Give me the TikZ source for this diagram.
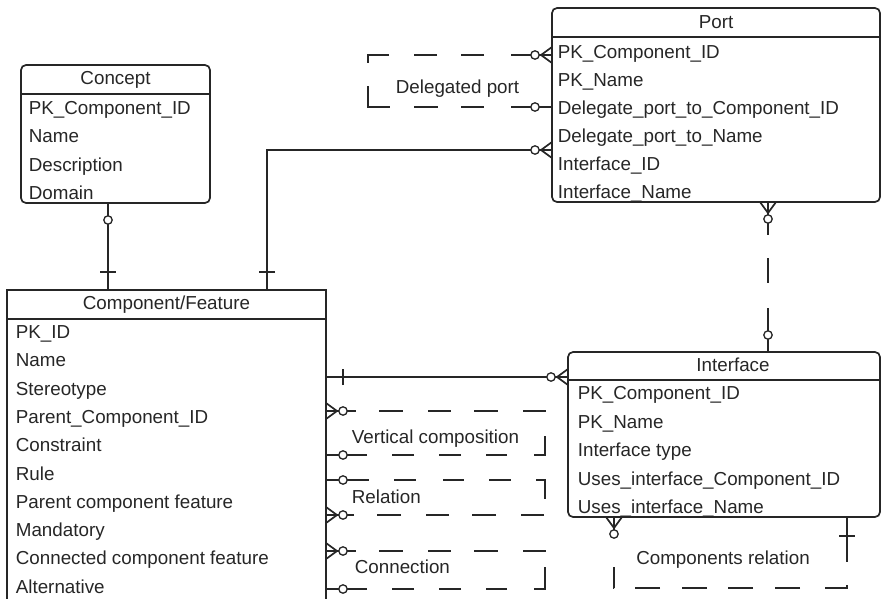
\documentclass[tikz,border=0pt]{standalone}
\usepackage{fontspec}
\setmainfont{Liberation Sans}
\usetikzlibrary{positioning,calc,decorations.markings}
\newcommand{\erfont}{\fontsize{18.8}{22}\selectfont}
\tikzset{
	er/.style={x=1pt,y=-1pt,line width=1.7pt,font=\erfont,color=black!85},
	entity/.style={draw,rectangle,rounded corners=5pt,anchor=north west,inner sep=0pt,outer sep=0pt},
	kernel/.style={draw,rectangle,anchor=north west,inner sep=0pt,outer sep=0pt},
	attr/.style={anchor=base west,inner sep=0pt},
	title/.style={anchor=base,inner sep=0pt},
	rel/.style={line width=1.7pt},
	nonrel/.style={line width=1.7pt,dash pattern=on 22pt off 24pt},
	ring start/.style={postaction={decorate,decoration={markings,mark=at position 17pt with {\draw[solid] (0,0) -- (-17pt,0); \draw[solid,fill=white,line width=1.3pt] (0,0) circle (4.2pt);}}}},
	ring end/.style={postaction={decorate,decoration={markings,mark=at position -17pt with {\draw[solid] (0,0) -- (17pt,0); \draw[solid,fill=white,line width=1.3pt] (0,0) circle (4.2pt);}}}},
	crow start/.style={postaction={decorate,decoration={markings,mark=at position 11pt with {\draw[solid] (-11pt,8pt) -- (0,0) -- (-11pt,-8pt);}}}},
	crow end/.style={postaction={decorate,decoration={markings,mark=at position -11pt with {\draw[solid] (11pt,8pt) -- (0,0) -- (11pt,-8pt);}}}},
	tick start/.style={postaction={decorate,decoration={markings,mark=at position #1 with {\draw[solid] (0,-8pt) -- (0,8pt);}}}},
	tick start/.default=18pt,
	tick end/.style={postaction={decorate,decoration={markings,mark=at position -#1 with {\draw[solid] (0,-8pt) -- (0,8pt);}}}},
	tick end/.default=18pt
}

\begin{document}
\begin{tikzpicture}[er]
	\clip (0,0) rectangle (882,598);
	
	% entities
	\node[entity,minimum width=189,minimum height=138] (concept) at (21,65) {};
	\node[kernel,minimum width=319,minimum height=330] (comp) at (7,290) {};
	\node[entity,minimum width=328,minimum height=194] (port) at (552,8) {};
	\node[entity,minimum width=312,minimum height=165] (iface) at (568,352) {};
	
	\draw (concept.west |- 0,94) -- (concept.east |- 0,94);
	\draw (comp.west |- 0,319) -- (comp.east |- 0,319);
	\draw (port.west |- 0,37) -- (port.east |- 0,37);
	\draw (iface.west |- 0,380) -- (iface.east |- 0,380);
	
	\node[title] (concept-title) at (concept.north |- 0,84.5) {Concept};
	\node[title] (comp-title) at (comp.north |- 0,309.5) {Component/Feature};
	\node[title] (port-title) at (port.north |- 0,28) {Port};
	\node[title] (iface-title) at (733,371.5) {Interface};
	
	\foreach \t [count=\i from 0] in {PK\_Component\_ID,Name,Description,Domain}
		\node[attr] (concept-\i) at (28,114.5+28.3*\i) {\t};
	\foreach \t [count=\i from 0] in {PK\_ID,Name,Stereotype,Parent\_Component\_ID,Constraint,Rule,Parent component feature,Mandatory,Connected component feature,Alternative}
		\node[attr] (comp-\i) at (15,338.5+28.3*\i) {\t};
	\foreach \t [count=\i from 0] in {PK\_Component\_ID,PK\_Name,Delegate\_port\_to\_Component\_ID,Delegate\_port\_to\_Name,Interface\_ID,Interface\_Name}
		\node[attr] (port-\i) at (557,58.5+28*\i) {\t};
	\foreach \t [count=\i from 0] in {PK\_Component\_ID,PK\_Name,Interface type,Uses\_interface\_Component\_ID,Uses\_interface\_Name}
		\node[attr] (iface-\i) at (577,399.5+28.5*\i) {\t};
	
	% relationships
	\draw[rel,ring start,tick end] (concept.south -| 108,0) -- (comp.north -| 108,0);
	\draw[rel,tick start,ring end,crow end] (comp.north -| 267,0) |- (port.west |- 0,150);
	\draw[rel,tick start=17pt,ring end,crow end] (comp.east |- 0,377) -- (iface.west |- 0,377);
	\draw[nonrel,dash pattern=on 41pt off 27pt on 23pt off 24pt on 23pt off 25pt on 29pt off 23pt on 43pt off 24pt on 24pt off 23pt on 23pt off 27pt on 43pt,crow start,ring start,ring end]
		(port.west |- 0,55) -- (368,55) -- (368,107) -- (port.west |- 0,107);
	\draw[nonrel,dash pattern=on 33pt off 23pt on 25pt off 25pt on 44pt,crow start,ring start,ring end]
		(port.south -| 768,0) -- (iface.north -| 768,0);
	\draw[nonrel,dash pattern=on 30pt off 23pt on 24pt off 25pt on 23pt off 23pt on 24pt off 25pt on 23pt off 24pt on 30pt off 27pt on 21pt off 25pt on 22pt off 25pt on 22pt off 25pt on 43pt,crow start,ring start,ring end]
		(comp.east |- 0,411) -- (545,411) -- (545,455) -- (comp.east |- 0,455);
	\draw[nonrel,dash pattern=on 43pt off 25pt on 22pt off 27pt on 21pt off 25pt on 22pt off 25pt on 28pt off 17pt on 23pt off 25pt on 24pt off 23pt on 23pt off 25pt on 24pt off 23pt on 30pt,ring start,crow end,ring end]
		(comp.east |- 0,480) -- (545,480) -- (545,515) -- (comp.east |- 0,515);
	\draw[nonrel,dash pattern=on 30pt off 23pt on 24pt off 25pt on 23pt off 23pt on 24pt off 25pt on 23pt off 15pt on 33pt off 27pt on 21pt off 25pt on 22pt off 25pt on 22pt off 25pt on 43pt,crow start,ring start,ring end]
		(comp.east |- 0,551) -- (545,551) -- (545,589) -- (comp.east |- 0,589);
	\draw[nonrel,dash pattern=on 45pt off 23pt on 25pt off 25pt on 25pt off 22pt on 25pt off 21pt on 25pt off 22pt on 25pt off 21pt on 21pt off 60pt,tick start=19pt,crow end,ring end]
		(iface.south -| 847,0) -- (847,588) -- (614,588) -- (iface.south -| 614,0);
	
	\node[attr] (deleg-lbl) at (395,93.5) {Delegated port};
	\node[attr] (vert-lbl) at (351,443) {Vertical composition};
	\node[attr] (rel-lbl) at (351,503) {Relation};
	\node[attr] (conn-lbl) at (354,573) {Connection};
	\node[title] (comprel-lbl) at (723,564.5) {Components relation};
\end{tikzpicture}
\end{document}
